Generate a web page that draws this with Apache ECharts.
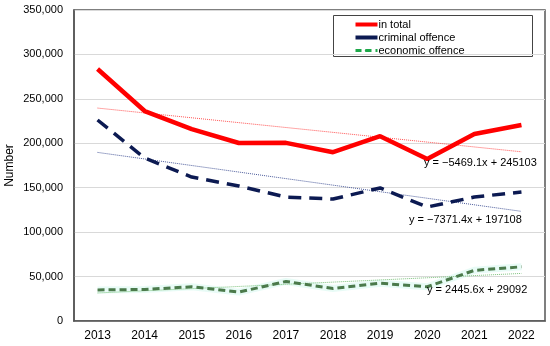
<!DOCTYPE html>
<html><head><meta charset="utf-8">
<script src="https://cdn.jsdelivr.net/npm/echarts@6/dist/echarts.min.js"></script>
<style>html,body{margin:0;padding:0;background:#fff}#c{width:550px;height:346px}</style>
</head><body><div id="c"></div>
<script>
const years = ['2013','2014','2015','2016','2017','2018','2019','2020','2021','2022'];
const inTotal = [283600, 236300, 216000, 200300, 200500, 190000, 208000, 182300, 210400, 220500];
const criminal = [226200, 183400, 162000, 152000, 139500, 137300, 149700, 128300, 139500, 145200];
const economic = [35000, 35500, 38500, 32500, 44500, 36500, 42500, 38500, 57000, 61000];
const trendTotal = [239634, 190412];
const trendCriminal = [189737, 123394];
const trendEconomic = [31538, 53548];
const trendLabels = ['y = \u22125469.1x + 245103', 'y = \u22127371.4x + 197108', 'y = 2445.6x + 29092'];
const yTicks = [0, 50000, 100000, 150000, 200000, 250000, 300000, 350000];

function trendData(ends){
  const d = years.map(()=>null);
  d[0] = ends[0]; d[d.length-1] = ends[1];
  return d;
}
const font = 'Liberation Sans, Arial, sans-serif';
const chart = echarts.init(document.getElementById('c'));
chart.setOption({
  animation:false,
  textStyle:{fontFamily:font},
  grid:{left:74,right:5,top:10,bottom:25,show:true,borderColor:'#555',borderWidth:1.5,
    containLabel:false,outerBoundsMode:'none'},
  xAxis:{type:'category',data:years,boundaryGap:true,
    axisLine:{lineStyle:{color:'#555',width:1.5}},axisTick:{show:false},
    axisLabel:{color:'#000',fontSize:12,margin:9,fontFamily:font}},
  yAxis:{type:'value',min:yTicks[0],max:yTicks[yTicks.length-1],interval:50000,
    name:'Number',nameLocation:'middle',nameGap:58,nameMoveOverlap:false,
    nameTextStyle:{color:'#000',fontSize:12,fontFamily:font},
    axisLine:{show:true,lineStyle:{color:'#555',width:1.5}},axisTick:{show:false},
    axisLabel:{color:'#000',fontSize:11,margin:11,fontFamily:font,formatter:v=>v.toLocaleString('en-US')},
    splitLine:{lineStyle:{color:'#d9d9d9'}}},
  legend:{orient:'vertical',left:349,top:14,itemGap:2,itemWidth:22,itemHeight:4,
    textStyle:{fontSize:11,color:'#000',fontFamily:font,padding:[0,0,0,-4]},
    data:[
      {name:'in total',icon:'rect'},
      {name:'criminal offence',icon:'rect'},
      {name:'economic offence',itemStyle:{color:'#1ea84a'},lineStyle:{color:'#1ea84a',type:[6,4],width:3}}
    ]},
  graphic:[
    {type:'rect',left:333,top:15,shape:{width:199,height:41},style:{fill:'#fff',stroke:'#444',lineWidth:1},z:-1,silent:true},
    {type:'text',left:424,top:157,style:{text:trendLabels[0],fontSize:11,fill:'#000',font:'11px '+font},z:100},
    {type:'text',left:409,top:214,style:{text:trendLabels[1],fontSize:11,fill:'#000',font:'11px '+font},z:100},
    {type:'text',left:427,top:284,style:{text:trendLabels[2],fontSize:11,fill:'#000',font:'11px '+font},z:100}
  ],
  series:[
    {name:'trend total',type:'line',data:trendData(trendTotal),connectNulls:true,symbol:'none',
      lineStyle:{color:'#ff5050',width:1,type:'dotted'},z:1,silent:true},
    {name:'trend criminal',type:'line',data:trendData(trendCriminal),connectNulls:true,symbol:'none',
      lineStyle:{color:'#4a5a9a',width:1,type:'dotted'},z:1,silent:true},
    {name:'trend economic',type:'line',data:trendData(trendEconomic),connectNulls:true,symbol:'none',
      lineStyle:{color:'#7ac07a',width:1,type:'dotted'},z:1,silent:true},
    {name:'economic glow',type:'line',data:economic,symbol:'none',
      lineStyle:{color:'#d8f8f0',width:7,opacity:0.6},z:0,silent:true},
    {name:'in total',type:'line',data:inTotal,symbol:'none',
      lineStyle:{color:'#ff0000',width:4.5},itemStyle:{color:'#ff0000'},z:3},
    {name:'criminal offence',type:'line',data:criminal,symbol:'none',
      lineStyle:{color:'#0c1a52',width:3.5,type:[13,8]},itemStyle:{color:'#0c1a52'},z:3},
    {name:'economic offence',type:'line',data:economic,symbol:'none',
      lineStyle:{color:'#4b7a4b',width:3,type:[7,4]},itemStyle:{color:'#4b7a4b'},z:3}
  ]
});
</script></body></html>
